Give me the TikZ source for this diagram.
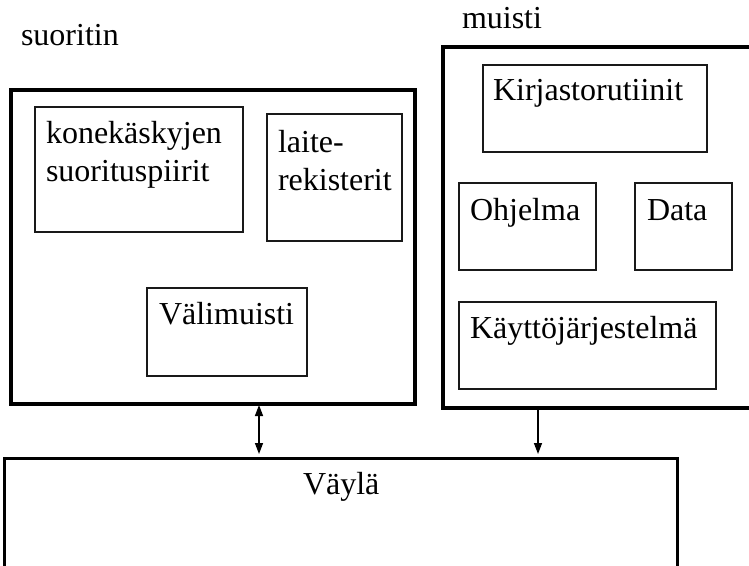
\documentclass[tikz,border=0pt]{standalone}
\usepackage{fontspec}
\setmainfont{Liberation Serif}
\usetikzlibrary{arrows.meta}
\begin{document}
\begin{tikzpicture}[x=1pt,y=-1pt,
  outerbox/.style={draw=black, line width=4pt, inner sep=0pt, outer sep=0pt},
  busbox/.style={draw=black, line width=3pt, inner sep=0pt, outer sep=0pt},
  unitbox/.style={draw=black!90, line width=1.2pt, inner sep=0pt, outer sep=0pt},
  lbl/.style={inner sep=0pt, outer sep=0pt, anchor=base west, align=left,
    font=\fontsize{32}{38}\selectfont},
  link/.style={line width=1.4pt, -{Triangle[length=11pt,width=8pt]}}]
\useasboundingbox (0,0) rectangle (749,565);
\clip (0,0) rectangle (749,565);

% processor, memory and bus enclosures
\node[outerbox, minimum width=404pt, minimum height=314pt] (cpu) at (213,247) {};
\node[outerbox, minimum width=327pt, minimum height=361pt] (mem) at (606.5,227.5) {};
\node[busbox, minimum width=673pt, minimum height=142pt] (bus) at (340.5,529) {};

% units inside the processor
\node[unitbox, minimum width=208pt, minimum height=125pt] (kone) at (139,169.5) {};
\node[unitbox, minimum width=135pt, minimum height=127pt] (laite) at (334.5,177.5) {};
\node[unitbox, minimum width=160pt, minimum height=88pt] (vali) at (227,332) {};

% areas inside the memory
\node[unitbox, minimum width=224pt, minimum height=87pt] (kirj) at (595,108.5) {};
\node[unitbox, minimum width=137pt, minimum height=87pt] (ohj) at (527.5,226.5) {};
\node[unitbox, minimum width=97pt, minimum height=87pt] (data) at (683.5,226.5) {};
\node[unitbox, minimum width=257pt, minimum height=87pt] (kayt) at (587.5,345.5) {};

% labels (multi-line labels are placed by the baseline of their last line)
\node[lbl] (tsuor) at (21,45) {suoritin};
\node[lbl] (tmuis) at (462,28) {muisti};
\node[lbl] (tkone) at (46,181) {konekäskyjen\\suorituspiirit};
\node[lbl] (tlaite) at (278,190) {laite-\\rekisterit};
\node[lbl] (tvali) at (159,324) {Välimuisti};
\node[lbl] (tkirj) at (493,100) {Kirjastorutiinit};
\node[lbl] (tohj) at (470,220) {Ohjelma};
\node[lbl] (tdata) at (647,220) {Data};
\node[lbl] (tkayt) at (470,338) {Käyttöjärjestelmä};
\node[lbl] (tbus) at (303,494) {Väylä};

% connections to the bus
\coordinate (xa) at (259,0);
\coordinate (xb) at (538,0);
\draw[link, {Triangle[length=11pt,width=8pt]}-{Triangle[length=11pt,width=8pt]}, shorten <=1pt, shorten >=4pt]
  (xa |- cpu.south) -- (xa |- bus.north);
\draw[link, shorten >=4pt] (xb |- mem.south) -- (xb |- bus.north);
\end{tikzpicture}
\end{document}
